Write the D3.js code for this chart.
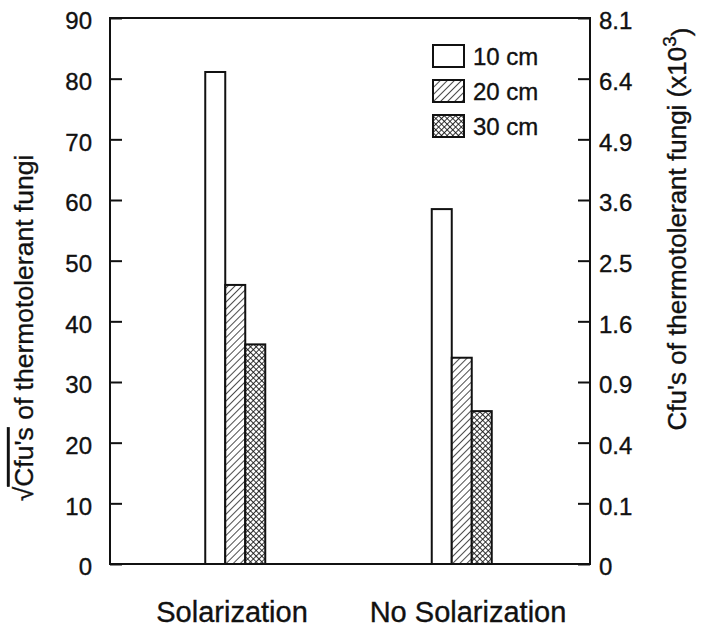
<!DOCTYPE html>
<html>
<head>
<meta charset="utf-8">
<script src="https://cdn.jsdelivr.net/npm/d3@7"></script>
<style>
  body { margin: 0; background: #fff; }
  text { font-family: "Liberation Sans", Arial, Helvetica, sans-serif; fill: #111; stroke: #111; stroke-width: 0.35px; }
</style>
</head>
<body>
<div id="chart"></div>
<script>
// Data (sqrt of cfu counts)
const treatments = ["Solarization", "No Solarization"];
const depths = ["10 cm", "20 cm", "30 cm"];
const depth10 = [81.1, 58.5];
const depth20 = [46, 34];
const depth30 = [36.2, 25.2];
const leftTicks = [0, 10, 20, 30, 40, 50, 60, 70, 80, 90];
const rightTickLabels = ["0", "0.1", "0.4", "0.9", "1.6", "2.5", "3.6", "4.9", "6.4", "8.1"];

const W = 701, H = 628;
const margin = { top: 18, right: 111, bottom: 64, left: 110 };
const width = W - margin.left - margin.right,
      height = H - margin.top - margin.bottom;

const svg = d3.select("#chart").append("svg")
    .attr("width", W)
    .attr("height", H);

// patterns for the bars
const defs = svg.append("defs");
const hatch = defs.append("pattern")
    .attr("id", "hatch")
    .attr("patternUnits", "userSpaceOnUse")
    .attr("width", 5).attr("height", 5)
    .attr("patternTransform", "rotate(45)");
hatch.append("rect").attr("width", 5).attr("height", 5).attr("fill", "#fff");
hatch.append("line").attr("x1", 0).attr("y1", 0).attr("x2", 0).attr("y2", 5)
    .attr("stroke", "#111").attr("stroke-width", 1.5);

const cross = defs.append("pattern")
    .attr("id", "cross")
    .attr("patternUnits", "userSpaceOnUse")
    .attr("width", 4).attr("height", 4)
    .attr("patternTransform", "rotate(45)");
cross.append("rect").attr("width", 4).attr("height", 4).attr("fill", "#fff");
cross.append("line").attr("x1", 0).attr("y1", 0).attr("x2", 0).attr("y2", 4)
    .attr("stroke", "#111").attr("stroke-width", 1.7);
cross.append("line").attr("x1", 0).attr("y1", 0).attr("x2", 4).attr("y2", 0)
    .attr("stroke", "#111").attr("stroke-width", 1.7);

const fills = ["#fff", "url(#hatch)", "url(#cross)"];

const g = svg.append("g")
    .attr("transform", `translate(${margin.left}, ${margin.top})`);

// scales
const x0 = d3.scaleBand().domain(treatments).range([12, width - 15]);
const x1 = d3.scaleBand().domain(depths).range([0, 60]);
const xLab = x0.copy().range([4, 476]); // category labels sit a bit wider than the bars
const y = d3.scaleLinear().domain([0, 90]).range([height, 0]);

// bars
const rows = treatments.map((t, i) => ({
    t, vals: [depth10[i], depth20[i], depth30[i]]
}));

const groups = g.selectAll(".grp")
    .data(rows)
    .enter().append("g")
    .attr("class", "grp")
    .attr("transform", d => `translate(${x0(d.t) + x0.bandwidth() / 2 - 30}, 0)`);

groups.selectAll("rect")
    .data(d => d.vals.map((v, j) => ({ v, depth: depths[j], j })))
    .enter().append("rect")
    .attr("x", d => x1(d.depth))
    .attr("y", d => y(d.v))
    .attr("width", x1.bandwidth())
    .attr("height", d => height - y(d.v))
    .attr("fill", d => fills[d.j])
    .attr("stroke", "#111")
    .attr("stroke-width", 2);

// axes
const yAxisL = d3.axisLeft(y).tickValues(leftTicks)
    .tickSizeInner(-12).tickSizeOuter(0).tickPadding(18);
const yAxisR = d3.axisRight(y).tickValues(leftTicks)
    .tickFormat((d, i) => rightTickLabels[i])
    .tickSizeInner(-12).tickSizeOuter(0).tickPadding(9);

const gl = g.append("g").call(yAxisL);
const gr = g.append("g").attr("transform", `translate(${width}, 0)`).call(yAxisR);

[gl, gr].forEach(a => {
    a.select(".domain").remove();
    a.selectAll("line").attr("stroke", "#111").attr("stroke-width", 2);
    a.selectAll("text")
        .attr("font-size", "24px")
        .attr("dy", "0.45em")
        .attr("font-family", "Liberation Sans, Arial, sans-serif")
        .attr("fill", "#111");
});

// frame
g.append("rect")
    .attr("width", width)
    .attr("height", height)
    .attr("fill", "none")
    .attr("stroke", "#111")
    .attr("stroke-width", 2);

// category labels
g.selectAll(".cat")
    .data(treatments)
    .enter().append("text")
    .attr("class", "cat")
    .attr("x", d => xLab(d) + xLab.bandwidth() / 2)
    .attr("y", height + 58)
    .attr("text-anchor", "middle")
    .attr("font-size", "29px")
    .text(d => d);

// left title
const lt = svg.append("text")
    .attr("transform", "translate(33, 328) rotate(-90)")
    .attr("text-anchor", "middle")
    .attr("font-size", "26.5px");
lt.append("tspan").text("\u221A");
lt.append("tspan").style("text-decoration", "overline").text("Cfu's");
lt.append("tspan").text(" of thermotolerant fungi");

// right title
const rt = svg.append("text")
    .attr("transform", "translate(686, 229) rotate(-90)")
    .attr("text-anchor", "middle")
    .attr("font-size", "26px");
rt.append("tspan").text("Cfu's of thermotolerant fungi (x10");
rt.append("tspan").attr("dy", "-0.55em").attr("font-size", "19px").text("3");
rt.append("tspan").attr("dy", "0.55em").text(")");

// legend
const legend = g.append("g").attr("transform", `translate(${433 - margin.left}, ${45 - margin.top})`);
const items = legend.selectAll(".li")
    .data(depths)
    .enter().append("g")
    .attr("class", "li")
    .attr("transform", (d, i) => `translate(0, ${i * 35})`);
items.append("rect")
    .attr("width", 31).attr("height", 22)
    .attr("fill", (d, i) => fills[i])
    .attr("stroke", "#111").attr("stroke-width", 2);
items.append("text")
    .attr("x", 40).attr("y", 20)
    .attr("font-size", "24px")
    .text(d => d);
</script>
</body>
</html>
